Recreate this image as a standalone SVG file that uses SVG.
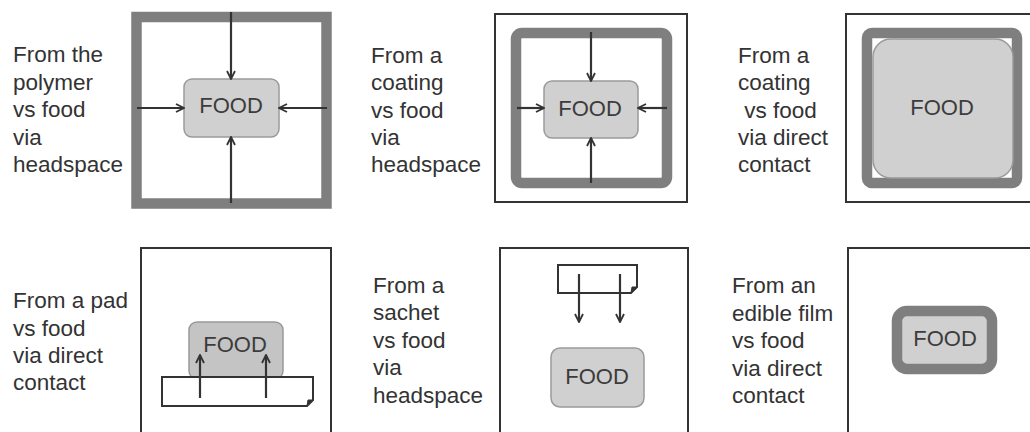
<svg xmlns="http://www.w3.org/2000/svg" width="1030" height="432" viewBox="0 0 1030 432">
<style>
.lbl{font-family:"Liberation Sans",Arial,sans-serif;font-size:22.5px;fill:#333}
.ft{font-family:"Liberation Sans",Arial,sans-serif;font-size:22px;fill:#3c3c3c;text-anchor:middle}
.food{fill:#d0d0d0;stroke:#9a9a9a;stroke-width:1.5}
.thick{fill:none;stroke:#7f7f7f;stroke-width:10.5}
.thin{fill:none;stroke:#333;stroke-width:2}
.arr{stroke:#333;stroke-width:2.2;fill:none;marker-end:url(#ah)}
.paper{fill:#fff;stroke:#333;stroke-width:2}
</style>
<defs>
<marker id="ah" viewBox="0 0 10 10" refX="9" refY="5" markerWidth="10" markerHeight="10" markerUnits="userSpaceOnUse" orient="auto">
<path d="M1,1 L9,5 L1,9" fill="none" stroke="#333" stroke-width="1.8"/>
</marker>
</defs>
<rect width="1030" height="432" fill="#fff"/>

<g id="panel1">
<text class="lbl"><tspan x="13" y="62">From the</tspan><tspan x="13" y="89.5">polymer</tspan><tspan x="13" y="117">vs food</tspan><tspan x="13" y="144.5">via</tspan><tspan x="13" y="172">headspace</tspan></text>
<rect class="thick" x="136.5" y="17" width="190" height="186.5"/>
<rect class="food" x="184" y="79" width="95" height="58" rx="8"/>
<text class="ft" x="231" y="113">FOOD</text>
</g>

<g id="panel2">
<text class="lbl"><tspan x="371" y="63">From a</tspan><tspan x="371" y="90">coating</tspan><tspan x="371" y="117.5">vs food</tspan><tspan x="371" y="145">via</tspan><tspan x="371" y="172">headspace</tspan></text>
<rect class="thin" x="495" y="14" width="192" height="188"/>
<rect class="thick" x="516" y="33" width="151" height="150" rx="6"/>
<rect class="food" x="544" y="81" width="94" height="57" rx="8"/>
<text class="ft" x="590" y="116">FOOD</text>
</g>

<g id="panel3">
<text class="lbl" xml:space="preserve"><tspan x="738" y="63">From a</tspan><tspan x="738" y="90">coating</tspan><tspan x="738" y="117.5"> vs food</tspan><tspan x="738" y="145">via direct</tspan><tspan x="738" y="172">contact</tspan></text>
<rect class="thin" x="846" y="14" width="190" height="188"/>
<rect class="thick" x="867" y="33" width="150" height="150" rx="5"/>
<rect class="food" x="873" y="39" width="140" height="139" rx="18"/>
<text class="ft" x="942" y="115">FOOD</text>
</g>

<g id="panel4">
<text class="lbl"><tspan x="13" y="308">From a pad</tspan><tspan x="13" y="335.5">vs food</tspan><tspan x="13" y="363">via direct</tspan><tspan x="13" y="390">contact</tspan></text>
<rect class="thin" x="141" y="248" width="190" height="190"/>
<rect x="189" y="322" width="94" height="57" rx="8" fill="#c4c4c4" stroke="#999" stroke-width="1.5"/>
<text class="ft" x="235" y="352">FOOD</text>
<path class="paper" d="M162,377 H313 V400 L307,406 H162 Z"/>
<path d="M313,400 L308,400 L307,406 Z" fill="#333" stroke="#333" stroke-width="1"/>
</g>

<g id="panel5">
<text class="lbl"><tspan x="373" y="292.5">From a</tspan><tspan x="373" y="320">sachet</tspan><tspan x="373" y="347.5">vs food</tspan><tspan x="373" y="375">via</tspan><tspan x="373" y="402.5">headspace</tspan></text>
<rect class="thin" x="500" y="248" width="188" height="190"/>
<path class="paper" d="M558,265 H637 V287 L631,293 H558 Z"/>
<path d="M637,287 L632,287 L631,293 Z" fill="#333" stroke="#333" stroke-width="1"/>
<rect class="food" x="551" y="348" width="93" height="59" rx="9"/>
<text class="ft" x="597" y="384">FOOD</text>
</g>

<g id="panel6">
<text class="lbl"><tspan x="732" y="293">From an</tspan><tspan x="732" y="320.5">edible film</tspan><tspan x="732" y="348">vs food</tspan><tspan x="732" y="375.5">via direct</tspan><tspan x="732" y="403">contact</tspan></text>
<rect class="thin" x="848" y="248" width="190" height="190"/>
<rect x="897" y="311" width="95" height="58" rx="10" fill="#d0d0d0" stroke="#7f7f7f" stroke-width="10.5"/>
<text class="ft" x="945" y="346">FOOD</text>
</g>

<g id="connectors">
<line class="arr" x1="231" y1="12" x2="231" y2="79"/>
<line class="arr" x1="231" y1="203" x2="231" y2="137"/>
<line class="arr" x1="137" y1="108" x2="184" y2="108"/>
<line class="arr" x1="327" y1="108" x2="279" y2="108"/>
<line class="arr" x1="591" y1="32" x2="591" y2="81"/>
<line class="arr" x1="591" y1="183" x2="591" y2="138"/>
<line class="arr" x1="517" y1="108" x2="544" y2="108"/>
<line class="arr" x1="667" y1="108" x2="638" y2="108"/>
<line class="arr" x1="200" y1="398" x2="200" y2="355"/>
<line class="arr" x1="266" y1="398" x2="266" y2="355"/>
<line class="arr" x1="579" y1="274" x2="579" y2="322"/>
<line class="arr" x1="620" y1="274" x2="620" y2="322"/>
</g>
</svg>
